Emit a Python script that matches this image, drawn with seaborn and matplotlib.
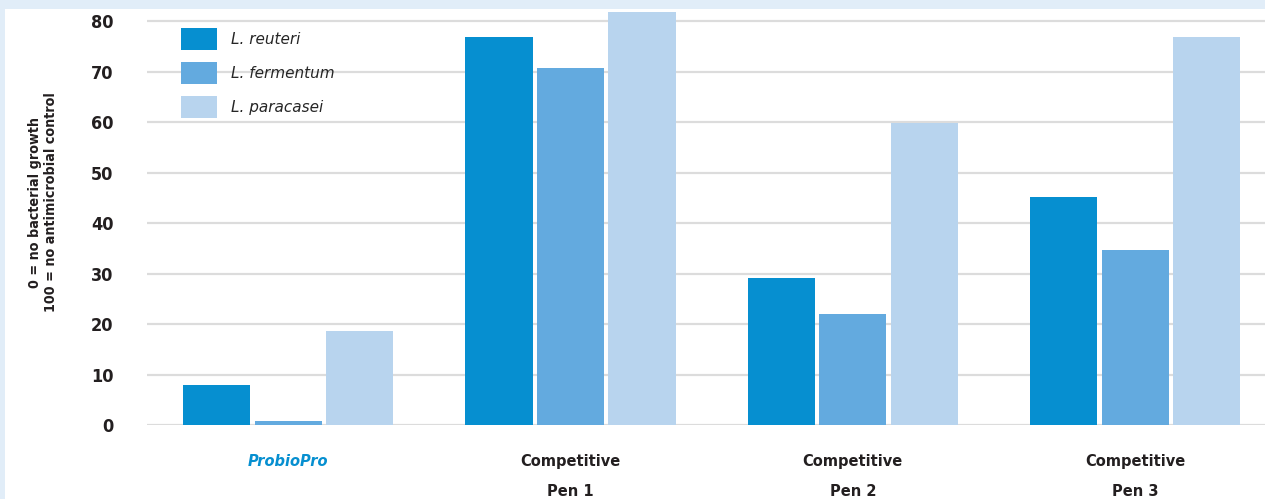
import numpy as np
import pandas as pd
import matplotlib
matplotlib.use('Agg')
import matplotlib.pyplot as plt
from matplotlib.patches import Rectangle
import seaborn as sns

#%% data
groups      = ['ProbioPro', 'Competitive\nPen 1', 'Competitive\nPen 2', 'Competitive\nPen 3']
strains     = ['L. reuteri', 'L. fermentum', 'L. paracasei']
reuteri     = [7.9, 76.8, 29.1, 45.1]
fermentum   = [0.8, 70.7, 22.0, 34.7]
paracasei   = [18.6, 81.8, 59.8, 76.8]
yticks      = [0, 10, 20, 30, 40, 50, 60, 70, 80]
colors      = ['#068fd0', '#63aadf', '#b8d4ee']

df = pd.DataFrame({'group'  : np.tile(groups, 3),
                   'strain' : np.repeat(strains, len(groups)),
                   'value'  : reuteri + fermentum + paracasei})

#%% figure
sns.set_style('white')
plt.rcParams['font.family'] = ['DejaVu Sans']

fig = plt.figure(figsize=(12.65, 4.99), dpi=100, facecolor='#e1edf8')
fig.patches.append(Rectangle((5/1265, 0), 1, 490/499, transform=fig.transFigure,
                             facecolor='white', edgecolor='none', zorder=-5))
ax = fig.add_axes([147/1265, 74/499, 1118/1265, 416/499])
ax.set_facecolor('none')
ax.set_zorder(2)

sns.barplot(data=df, x='group', y='value', hue='strain', palette=colors,
            width=0.76, gap=0.06, saturation=1, linewidth=0, ax=ax, zorder=3)

ax.set_ylim(0, 82.4)
ax.set_xlim(-0.5, 3.46)
ax.set_yticks(yticks)
ax.set_yticklabels([str(t) for t in yticks], fontsize=13, fontweight='bold',
                   fontstretch='condensed', color='#231f20')
ax.yaxis.grid(True, color='#dcdcdc', linewidth=1.6, zorder=0)
ax.set_axisbelow(True)
ax.tick_params(axis='y', length=0, pad=24)
ax.tick_params(axis='x', length=0, pad=21)
for s in ax.spines.values():
    s.set_visible(False)

ax.set_xlabel('')
ax.set_ylabel('')
for i, lab in enumerate(ax.get_xticklabels()):
    lab.set_fontsize(10.5)
    lab.set_fontweight('bold')
    lab.set_linespacing(2.2)
    lab.set_color('#231f20')
    if i == 0:
        lab.set_color('#068fd0')
        lab.set_fontstyle('italic')

fig.text(43/1265, (499-202)/499, '0 = no bacterial growth\n100 = no antimicrobial control',
         rotation=90, ha='center', va='center', multialignment='center',
         fontsize=10.3, fontweight='bold', fontstretch='condensed', color='#231f20',
         linespacing=1.2)

handles, labels = ax.get_legend_handles_labels()
ax.legend(handles, labels, loc='upper left', bbox_to_anchor=(0.03, 0.955),
          frameon=False, borderpad=0, borderaxespad=0,
          handlelength=2.4, handleheight=1.9, labelspacing=0.74, handletextpad=0.9,
          prop={'size': 11, 'style': 'italic'})

fig.savefig('out.png', dpi=100, facecolor=fig.get_facecolor())
